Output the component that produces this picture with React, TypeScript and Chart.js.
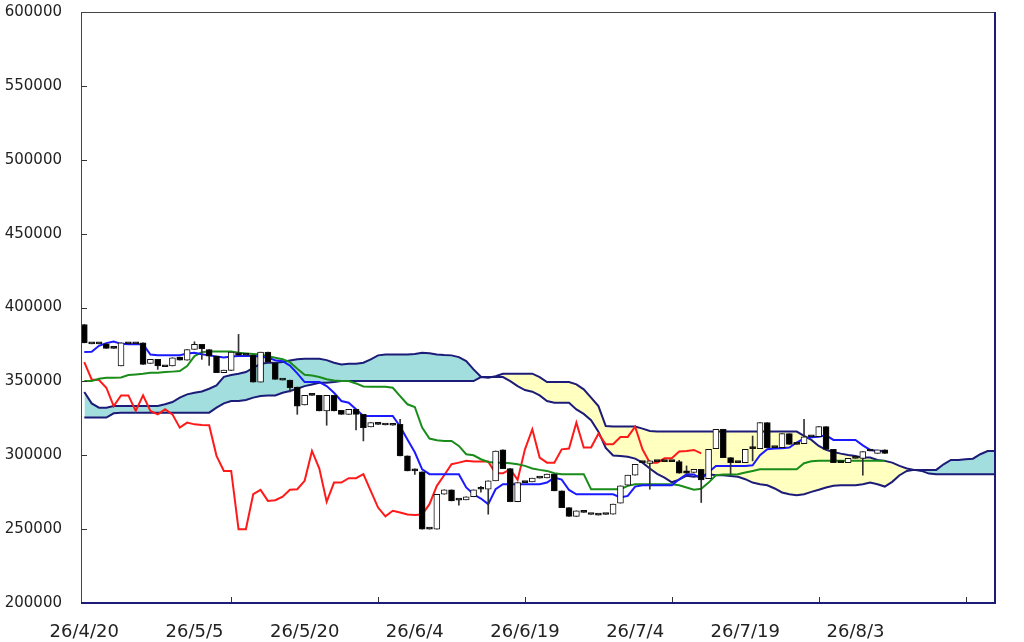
import { useEffect, useRef } from "react";
import { Chart, registerables } from "chart.js";

Chart.register(...registerables);

// x axis: one slot per trading day, labels every 15 slots, tick marks every 20
const xLabels = ["26/4/20", "26/5/5", "26/5/20", "26/6/4", "26/6/19", "26/7/4", "26/7/19", "26/8/3"];
const xLabelIdx = [0, 15, 30, 45, 60, 75, 90, 105];
const xTickMarks = [20, 40, 60, 80, 100, 120];
const yTicks = [200000, 250000, 300000, 350000, 400000, 450000, 500000, 550000, 600000];

const opens = [
  388500, 375400, 375400, 375400, 372300, 360400, 375400, 375400, 376100, 362100,
  364900, 359900, 360400, 366400, 364400, 371600, 375000, 371600, 367100, 355900,
  357400, 369400, 367800, 367800, 349500, 369800, 362600, 350900, 350900, 346200,
  334000, 340500, 340500, 330000, 340500, 330400, 327700, 331100, 327700, 319200,
  320900, 320500, 320300, 320900, 299600, 289400, 288700, 250000, 250000, 273600,
  276600, 269600, 269800, 271900, 277000, 277000, 282700, 303600, 291000, 268500,
  281500, 282000, 284500, 284700, 287200, 275900, 264600, 258600, 261300, 259900,
  259500, 259900, 260100, 267600, 279700, 286500, 295000, 294400, 295700, 295700,
  295700, 295700, 289400, 288300, 290500, 284200, 304500, 317600, 298400, 295000,
  295000, 304500, 304500, 322100, 305200, 305200, 314600, 307400, 307900, 312400,
  312600, 319400, 304000, 295000, 295000, 297900, 297900, 302900, 301300, 303600,
];
const closes = [
  376100, 375400, 375400, 372300, 372300, 376100, 375400, 375400, 361500, 364900,
  360400, 359900, 366000, 364400, 371600, 375000, 372100, 367100, 355900, 357700,
  369800, 367800, 367800, 349500, 369800, 363000, 351300, 350900, 345700, 333300,
  340500, 340500, 330000, 340500, 330000, 327700, 331100, 327700, 318700, 322100,
  320900, 320500, 320300, 299600, 289400, 289400, 250000, 250000, 273600, 276600,
  269100, 269600, 271900, 276600, 277000, 282700, 302900, 291000, 268500, 281500,
  281500, 284500, 284500, 287200, 275900, 264600, 258600, 262400, 261300, 259900,
  259500, 259900, 266900, 279300, 286500, 293900, 295000, 296200, 295700, 295700,
  295700, 287800, 287800, 290500, 283300, 304000, 317600, 298400, 295000, 295000,
  304000, 304500, 322100, 305200, 305200, 314600, 307400, 307400, 312400, 312400,
  319400, 304000, 295000, 295000, 297900, 297900, 302500, 302900, 303600, 301300,
];
// wick ends beyond the body; null where no wick shows
const highs = [
  null, null, null, null, null, null, null, null, null, null,
  null, null, null, null, null, 376800, null, null, null, null,
  null, 381800, null, null, null, null, null, null, null, null,
  null, null, null, null, null, null, null, null, null, null,
  null, null, null, 324300, null, 290800, null, null, null, null,
  null, null, null, null, 279000, null, null, null, null, null,
  null, null, null, null, null, null, null, null, null, null,
  null, null, null, null, null, null, null, null, null, null,
  null, 296600, 292800, null, null, null, null, null, null, null,
  null, 313000, null, null, null, null, null, null, 324300, null,
  null, null, null, null, null, null, null, null, null, null,
];
const lows = [
  null, null, null, null, null, null, null, null, null, null,
  358100, null, null, null, null, null, 364900, 360800, null, null,
  null, null, null, null, null, null, null, null, 342800, 327700,
  null, null, null, 320300, null, null, null, 317100, 309700, null,
  null, null, null, null, null, 287000, null, null, null, null,
  null, 266200, null, null, 275000, 260100, null, null, null, null,
  null, null, null, null, null, null, null, null, null, null,
  null, null, null, null, null, null, null, 277000, null, null,
  null, null, null, null, 268000, null, null, null, 287200, null,
  null, 296200, null, null, null, null, null, null, null, null,
  null, null, null, null, null, null, 286500, null, null, null,
];

const tenkan = [
  369800, 370000, 374100, 375900, 377000, 375400, 375200, 375200, 375200, 368200,
  367700, 367700, 367700, 367700, 368800, 369400, 368300, 367600, 366800, 366200,
  366900, 367100, 367100, 367100, 366900, 366000, 364300, 363700, 360700, 355400,
  349500, 349500, 349500, 346800, 342300, 336700, 335600, 331100, 326600, 326600,
  326600, 326600, 326600, 319500, 310600, 302000, 290500, 287200, 287200, 287200,
  287200, 287200, 278200, 273600, 270700, 266900, 277000, 280400, 280400, 280400,
  280400, 280400, 280400, 281500, 284900, 283500, 276500, 273600, 273600, 273600,
  273600, 273600, 273600, 271400, 272500, 278800, 279700, 279700, 279700, 279700,
  279700, 283800, 287200, 287000, 284200, 288500, 292800, 292800, 292800, 292800,
  292800, 293200, 300000, 304000, 304500, 304800, 305200, 308600, 311300, 312200,
  312600, 313500, 310400, 310400, 310400, 310400, 306700, 303600, 302900, 302900,
];
const kijun = [
  350200, 350200, 351800, 352500, 352500, 352700, 354300, 354700, 355200, 355900,
  355900, 356300, 356600, 357000, 360400, 367100, 369800, 370300, 370300, 370300,
  370300, 369400, 368900, 368500, 368200, 367100, 366000, 365000, 363000, 358500,
  354500, 354000, 353000, 351500, 350600, 350200, 350200, 348600, 346600, 346400,
  346400, 346400, 345700, 340000, 334500, 332700, 318700, 311300, 310100, 309700,
  309700, 306300, 300700, 300000, 297300, 295500, 295000, 295000, 294600, 293900,
  292800, 291000, 290100, 289400, 287800, 287200, 287200, 287200, 287200, 277000,
  277000, 277000, 277000, 277000, 279300, 280400, 280400, 280400, 280400, 280400,
  280400, 279700, 278200, 276600, 277300, 281500, 286500, 286900, 287000, 287200,
  288300, 289400, 290500, 290500, 290500, 290500, 290500, 290500, 294600, 295900,
  296200, 296200, 296200, 296200, 296200, 296200, 296200, 296200, 296200, 296200,
];
// lagging line, starts at slot 0
const chikou = [
  363000, 351300, 350900, 345700, 333300, 340500, 340500, 330000, 340500, 330000,
  327700, 331100, 327700, 318700, 322100, 320900, 320500, 320300, 299600, 289400,
  289400, 250000, 250000, 273600, 276600, 269100, 269600, 271900, 276600, 277000,
  282700, 302900, 291000, 268500, 281500, 281500, 284500, 284500, 287200, 275900,
  264600, 258600, 262400, 261300, 259900, 259500, 259900, 266900, 279300, 286500,
  293900, 295000, 296200, 295700, 295700, 295700, 287800, 287800, 290500, 283300,
  304000, 317600, 298400, 295000, 295000, 304000, 304500, 322100, 305200, 305200,
  314600, 307400, 307400, 312400, 312400, 319400, 304000, 295000, 295000, 297900,
  297900, 302500, 302900, 303600, 301300,
];
// leading spans, run 15 slots past the last candle
const spanA = [
  342800, 335100, 332200, 332200, 333300, 333300, 333300, 333300, 333300, 333300,
  333300, 334500, 336000, 339000, 341200, 342300, 343200, 345000, 347300, 353100,
  354300, 355200, 356300, 359200, 361900, 362600, 362600, 363100, 364200, 364900,
  365300, 365300, 365300, 364400, 362600, 361500, 361900, 361900, 362600, 364900,
  367600, 368200, 368200, 368200, 368200, 368500, 369400, 369100, 368200, 367800,
  367600, 366400, 363700, 358100, 353100, 352900, 352900, 352900, 350200, 346800,
  344100, 343000, 340500, 336700, 335600, 335600, 335600, 331000, 328000, 323700,
  316000, 305000, 299800, 299500, 299000, 297700, 295000, 291000, 287400, 284900,
  281700, 283500, 286200, 285500, 286200, 287200, 286500, 286500, 286000, 285400,
  283800, 281500, 280400, 279700, 277500, 274800, 273600, 273000, 273600, 275200,
  276600, 278200, 279300, 279700, 279700, 279700, 280400, 281500, 280400, 278800,
  282000, 286500, 289400, 290100, 290100, 290100, 290100, 293900, 296800, 296800,
  297300, 297700, 300700, 302900, 302900,
];
const spanB = [
  325500, 325500, 325500, 325500, 328400, 328800, 328800, 328800, 328800, 328800,
  328800, 328800, 328800, 328800, 328800, 328800, 328800, 328800, 332200, 335100,
  336700, 336700, 337400, 339000, 340100, 340500, 340500, 342300, 343500, 345000,
  346800, 347900, 349100, 349100, 349500, 350200, 350200, 350200, 350200, 350200,
  350200, 350200, 350200, 350200, 350200, 350200, 350200, 350200, 350200, 350200,
  350200, 350200, 350200, 350200, 352900, 352500, 353500, 355200, 355200, 355200,
  355200, 355200, 352900, 349500, 349500, 349500, 349500, 348000, 344600, 339000,
  333300, 319800, 319400, 319400, 319400, 319400, 318000, 316400, 316000, 316000,
  316000, 316000, 316000, 316000, 316000, 316000, 316000, 316000, 316000, 316000,
  316000, 316000, 316000, 316000, 316000, 316000, 316000, 316000, 313100, 310400,
  306300, 303600, 302200, 301100, 300200, 299500, 298400, 298400, 296800, 296200,
  295000, 292800, 291000, 290100, 289400, 287600, 287200, 287200, 287200, 287200,
  287200, 287200, 287200, 287200, 287200,
];

const NAVY = "#1c1c78";
const CYAN = "#a2dede";
const YELLOW = "#ffffc0";

const points = (arr: number[]) => arr.map((y, i) => ({ x: i, y }));

// pale yellow with a sparse white dot texture, as in the thin cloud
function dottedYellow(): CanvasPattern | string {
  const tile = document.createElement("canvas");
  tile.width = 4;
  tile.height = 4;
  const tctx = tile.getContext("2d");
  if (!tctx) return YELLOW;
  tctx.fillStyle = YELLOW;
  tctx.fillRect(0, 0, 4, 4);
  tctx.fillStyle = "#ffffff";
  tctx.fillRect(1, 1, 1, 1);
  return tctx.createPattern(tile, "repeat") ?? YELLOW;
}

const framePlugin = {
  id: "frame",
  afterDatasetsDraw(chart: Chart) {
    const { ctx, chartArea, scales } = chart;
    const { left, top, right, bottom } = chartArea;
    const x = scales.x;
    const y = scales.y;
    ctx.save();
    ctx.lineWidth = 1;
    ctx.strokeStyle = "#333";
    ctx.beginPath();
    for (const v of yTicks) {
      const py = Math.round(y.getPixelForValue(v)) + 0.5;
      ctx.moveTo(left, py);
      ctx.lineTo(left + 6, py);
    }
    for (const v of xTickMarks) {
      const px = Math.round(x.getPixelForValue(v)) + 0.5;
      ctx.moveTo(px, bottom);
      ctx.lineTo(px, bottom - 6);
    }
    ctx.stroke();
    ctx.strokeStyle = "#444";
    ctx.strokeRect(left + 0.5, top + 0.5, right - left, bottom - top);
    ctx.strokeStyle = NAVY;
    ctx.lineWidth = 2;
    ctx.beginPath();
    ctx.moveTo(left, bottom);
    ctx.lineTo(right, bottom);
    ctx.lineTo(right, top);
    ctx.stroke();
    ctx.restore();
  },
};

export default function App() {
  const canvasRef = useRef<HTMLCanvasElement>(null);
  const chartRef = useRef<Chart | null>(null);

  useEffect(() => {
    if (!canvasRef.current) return;
    if (chartRef.current) chartRef.current.destroy();

    const lineBase = {
      type: "line" as const,
      pointRadius: 0,
      tension: 0,
      borderWidth: 2,
      fill: false,
    };

    chartRef.current = new Chart(canvasRef.current, {
      type: "bar",
      data: {
        datasets: [
          {
            ...lineBase,
            label: "spanA",
            data: points(spanA),
            borderColor: NAVY,
            fill: { target: 1, above: CYAN, below: dottedYellow() },
            order: 6,
          },
          { ...lineBase, label: "spanB", data: points(spanB), borderColor: NAVY, order: 5 },
          { ...lineBase, label: "chikou", data: points(chikou), borderColor: "#ff1a1a", order: 4 },
          { ...lineBase, label: "kijun", data: points(kijun), borderColor: "#1a8c1a", order: 3 },
          { ...lineBase, label: "tenkan", data: points(tenkan), borderColor: "#1a1aff", order: 2 },
          {
            type: "bar",
            label: "wick",
            data: opens.map((o, i) => ({
              x: i,
              y: [lows[i] ?? Math.min(o, closes[i]), highs[i] ?? Math.max(o, closes[i])],
            })),
            backgroundColor: "#333",
            borderWidth: 0,
            barThickness: 1,
            grouped: false,
            order: 1,
          },
          {
            type: "bar",
            label: "body",
            data: opens.map((o, i) => ({ x: i, y: [o, closes[i]] })),
            backgroundColor: opens.map((o, i) => (closes[i] > o ? "#ffffff" : "#000000")),
            borderColor: "#111",
            borderWidth: 1,
            borderSkipped: false,
            barThickness: 6,
            minBarLength: 2,
            grouped: false,
            order: 0,
          },
        ] as any,
      },
      options: {
        animation: false,
        responsive: true,
        maintainAspectRatio: false,
        events: [],
        layout: { padding: { top: 12, right: 29, left: 0, bottom: 0 } },
        plugins: {
          legend: { display: false },
          tooltip: { enabled: false },
          filler: { drawTime: "beforeDatasetsDraw" },
        },
        scales: {
          x: {
            type: "linear",
            min: -0.45,
            max: 124,
            offset: false,
            grid: { display: false, drawTicks: false, tickLength: 0 },
            border: { display: false },
            afterBuildTicks: (scale: any) => {
              scale.ticks = xLabelIdx.map((v) => ({ value: v }));
            },
            afterFit: (scale: any) => {
              scale.height = 39;
              scale.paddingLeft = 0;
              scale.paddingRight = 0;
            },
            ticks: {
              autoSkip: false,
              maxRotation: 0,
              padding: 19,
              color: "#222",
              font: { family: "DejaVu Sans", size: 18 },
              callback: (v: any) => xLabels[xLabelIdx.indexOf(Number(v))] ?? "",
            },
          },
          y: {
            type: "linear",
            min: 200000,
            max: 600000,
            grid: { display: false, drawTicks: false, tickLength: 0 },
            border: { display: false },
            afterFit: (scale: any) => {
              scale.width = 81;
              scale.paddingTop = 0;
              scale.paddingBottom = 0;
            },
            ticks: {
              stepSize: 50000,
              padding: 19,
              color: "#222",
              font: { family: "DejaVu Sans", size: 15 },
              callback: (v: any) => String(v),
            },
          },
        },
      },
      plugins: [framePlugin],
    });

    return () => {
      if (chartRef.current) {
        chartRef.current.destroy();
        chartRef.current = null;
      }
    };
  }, []);

  return (
    <div style={{ position: "fixed", left: 0, top: 0, width: 1024, height: 642, background: "#fff" }}>
      <canvas ref={canvasRef} />
    </div>
  );
}
